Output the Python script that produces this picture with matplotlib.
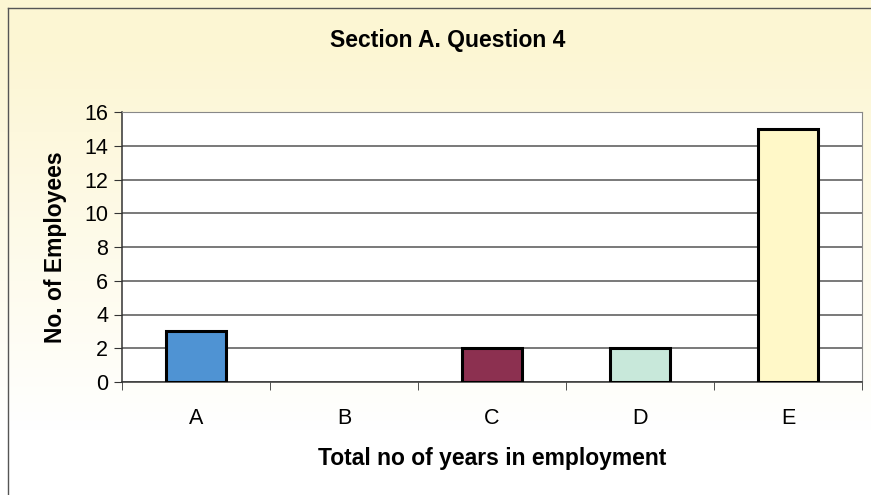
import matplotlib.pyplot as plt
import numpy as np

categories = ['A', 'B', 'C', 'D', 'E']
employees = [3, 0, 2, 2, 15]
bar_colors = ['#4f93d3', '#9aa0ff', '#8c3050', '#c8e8da', '#fff8c8']

yticks = [0, 2, 4, 6, 8, 10, 12, 14, 16]

plt.rcParams['font.family'] = ['Liberation Sans', 'DejaVu Sans']

fig = plt.figure(figsize=(8.71, 4.95), dpi=100)

# pale yellow backdrop fading to white at the bottom
bg = fig.add_axes([0, 0, 1, 1], zorder=-10)
grad = np.linspace(0, 1, 256).reshape(-1, 1)
top = np.array([0.99, 0.965, 0.83])
bot = np.array([1.0, 1.0, 1.0])
img = top + (bot - top) * np.clip((grad - 0.1) * 1.3, 0, 1)[..., None]
bg.imshow(img.reshape(256, 1, 3), aspect='auto', extent=[0, 1, 0, 1])
bg.plot([8 / 871, 8 / 871], [0, 1 - 8 / 495], color='#555555', lw=1)
bg.plot([8 / 871, 1], [1 - 8 / 495, 1 - 8 / 495], color='#555555', lw=1)
bg.set_xlim(0, 1)
bg.set_ylim(0, 1)
bg.axis('off')

ax = fig.add_axes([122 / 871, 1 - 382 / 495, 740 / 871, 270 / 495])
ax.set_facecolor('white')

x = np.arange(len(categories))
# empty categories get no outline, so nothing shows on the axis
widths = [2.2 if v > 0 else 0 for v in employees]
ax.bar(x, employees, width=0.41, color=bar_colors, edgecolor='black', linewidth=widths, zorder=3)

ax.set_xlim(-0.5, len(categories) - 0.5)
ax.set_ylim(0, 16)
ax.set_yticks(yticks)
ax.set_yticklabels([str(t) for t in yticks], fontsize=15.5)
ax.set_xticks(x)
ax.set_xticklabels(categories, fontsize=15.5)
ax.tick_params(axis='x', length=0, pad=19)
ax.set_xticks(np.arange(-0.5, len(categories)), minor=True)
ax.tick_params(axis='x', which='minor', length=6, direction='out', color='#333333')
ax.tick_params(axis='y', length=6, direction='out', color='#333333', pad=4)

ax.yaxis.grid(True, color='#555555', linewidth=1.1, zorder=0)
ax.set_axisbelow(True)
for side in ['top', 'right']:
    ax.spines[side].set_color('#888888')
for side in ['left', 'bottom']:
    ax.spines[side].set_color('#333333')
    ax.spines[side].set_linewidth(1.1)

ax.set_ylabel('No. of Employees', fontsize=16.5, fontweight='bold', labelpad=12)
ax.set_xlabel('Total no of years in employment', fontsize=16.5, fontweight='bold', labelpad=13)
fig.text(0.514, 1 - 40 / 495, 'Section A. Question 4', ha='center', va='center',
         fontsize=16.5, fontweight='bold')

fig.savefig('out.png', dpi=100)
